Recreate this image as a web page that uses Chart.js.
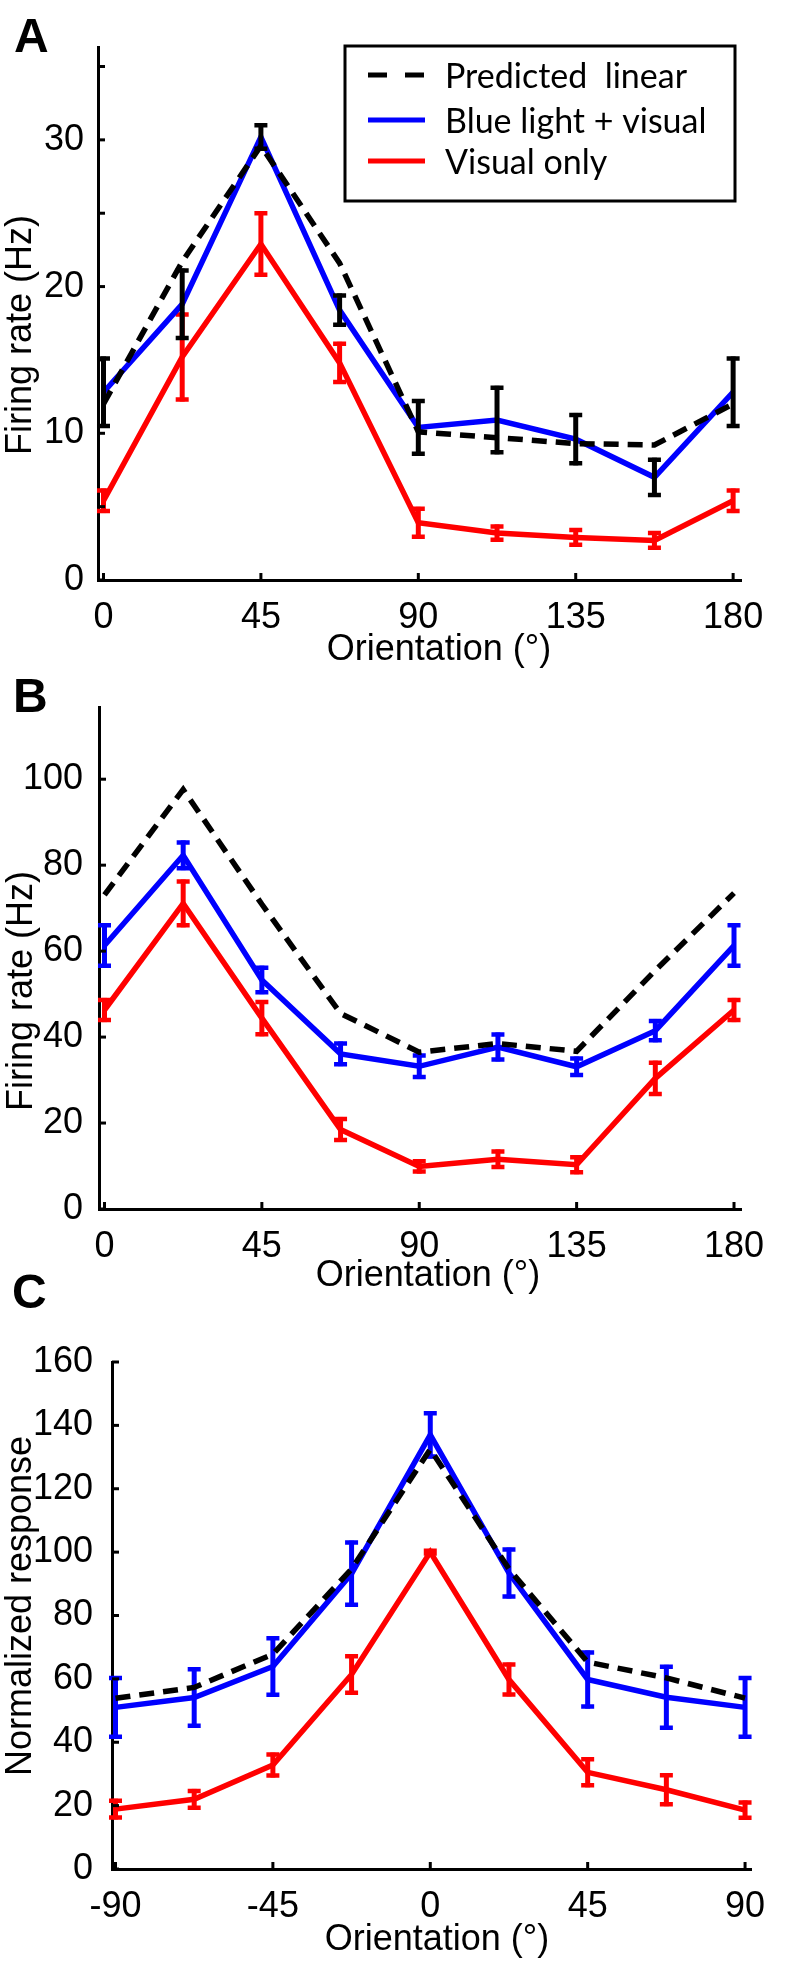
<!DOCTYPE html>
<html><head><meta charset="utf-8">
<script src="https://cdn.jsdelivr.net/npm/chart.js@4.4.1/dist/chart.umd.min.js"></script>
<style>
html,body{margin:0;padding:0;background:#fff;}
#wrap{position:relative;width:810px;height:1971px;background:#fff;}
canvas{position:absolute;left:0;top:0;}
</style></head><body><div id="wrap">
<canvas id="cA" width="810" height="1971"></canvas>
<canvas id="cB" width="810" height="1971"></canvas>
<canvas id="cC" width="810" height="1971"></canvas>
</div>
<script>
// ---------- data ----------
const seriesLabels = ['Predicted  linear', 'Blue light + visual', 'Visual only'];

// Panel A
const orientAB = [0, 22.5, 45, 67.5, 90, 112.5, 135, 157.5, 180];
const predA = [12.0, 21.7, 29.6, 21.6, 10.1, 9.7, 9.3, 9.2, 12.0];
const blueA = [12.8, 18.8, 30.2, 18.4, 10.4, 10.9, 9.6, 7.0, 12.8];
const blueErrA = [2.3, 2.3, 0.8, 1.0, 1.8, 2.2, 1.65, 1.2, 2.3];
const redA = [5.4, 15.2, 22.9, 14.8, 3.9, 3.2, 2.9, 2.7, 5.4];
const redErrA = [0.7, 2.9, 2.1, 1.3, 0.95, 0.45, 0.5, 0.5, 0.7];
const xTicksAB = [0, 45, 90, 135, 180];
const xTickLabelsAB = ['0', '45', '90', '135', '180'];
const yTicksA = [0, 5, 10, 15, 20, 25, 30, 35];
const yTickLabelsA = ['0', '', '10', '', '20', '', '30', ''];

// Panel B
const predB = [73.1, 97.6, 70.9, 45.5, 36.5, 38.5, 36.7, 55.5, 73.5];
const blueB = [61.3, 82.3, 53.3, 36.1, 33.2, 37.7, 33.1, 41.5, 61.3];
const blueErrB = [4.7, 3.0, 2.85, 2.4, 2.5, 2.9, 1.9, 2.25, 4.7];
const redB = [46.3, 71.1, 44.4, 18.5, 9.9, 11.6, 10.3, 30.4, 46.3];
const redErrB = [2.35, 5.1, 3.75, 2.45, 1.2, 1.8, 1.75, 3.65, 2.35];
const yTicksB = [0, 20, 40, 60, 80, 100];
const yTickLabelsB = ['0', '20', '40', '60', '80', '100'];

// Panel C
const orientC = [-90, -67.5, -45, -22.5, 0, 22.5, 45, 67.5, 90];
const predC = [53.9, 57.3, 67.8, 94.7, 132.5, 94.7, 65.3, 60.3, 53.9];
const blueC = [51.0, 54.1, 63.9, 93.2, 137.0, 93.4, 59.8, 54.2, 51.0];
const blueErrC = [9.25, 8.9, 8.9, 9.8, 6.8, 7.4, 8.55, 9.6, 9.25];
const redC = [18.9, 22.0, 32.8, 61.4, 100, 59.8, 30.5, 25.0, 18.6];
const redErrC = [2.65, 2.65, 3.3, 5.75, 0.4, 4.7, 4.1, 4.55, 2.4];
const xTicksC = [-90, -45, 0, 45, 90];
const xTickLabelsC = ['-90', '-45', '0', '45', '90'];
const yTicksC = [0, 20, 40, 60, 80, 100, 120, 140, 160];
const yTickLabelsC = ['0', '20', '40', '60', '80', '100', '120', '140', '160'];

const xTitle = 'Orientation (°)';
const yTitleAB = 'Firing rate (Hz)';
const yTitleC = 'Normalized response';

// ---------- styling ----------
const FONT = "'Liberation Sans', Arial, Helvetica, sans-serif";
const BLACK = '#000000', BLUE = '#0000ff', RED = '#ff0000';

const errorBars = {
  id: 'errorBars',
  afterDatasetDraw(chart, args) {
    const ds = chart.data.datasets[args.index];
    if (!ds.errors) return;
    const xs = chart.scales.x, ys = chart.scales.y, ctx = chart.ctx;
    ctx.save();
    ctx.strokeStyle = ds.errorColor;
    ctx.lineCap = 'butt';
    ds.data.forEach((p, i) => {
      const e = ds.errors[i];
      const px = xs.getPixelForValue(p.x);
      const yt = ys.getPixelForValue(p.y + e);
      const yb = ys.getPixelForValue(p.y - e);
      ctx.lineWidth = 5;
      ctx.beginPath(); ctx.moveTo(px, yt - 2); ctx.lineTo(px, yb + 2); ctx.stroke();
      ctx.lineWidth = 4.5;
      ctx.beginPath();
      ctx.moveTo(px - 6.5, yt); ctx.lineTo(px + 6.5, yt);
      ctx.moveTo(px - 6.5, yb); ctx.lineTo(px + 6.5, yb);
      ctx.stroke();
    });
    ctx.restore();
  }
};

const deco = {
  id: 'deco',
  afterDraw(chart, args, o) {
    const ctx = chart.ctx, xs = chart.scales.x, ys = chart.scales.y, ca = chart.chartArea;
    ctx.save();
    ctx.strokeStyle = BLACK; ctx.lineWidth = 3; ctx.lineCap = 'butt';
    xs.ticks.forEach(t => {
      const px = xs.getPixelForValue(t.value);
      ctx.beginPath(); ctx.moveTo(px, ca.bottom); ctx.lineTo(px, ca.bottom - 7); ctx.stroke();
    });
    ys.ticks.forEach(t => {
      const py = ys.getPixelForValue(t.value);
      ctx.beginPath(); ctx.moveTo(ca.left, py); ctx.lineTo(ca.left + 7, py); ctx.stroke();
    });
    ctx.fillStyle = BLACK;
    ctx.font = '36px ' + FONT;
    ctx.textAlign = 'center'; ctx.textBaseline = 'middle';
    ctx.fillText(o.xTitle, o.xTitlePos[0], o.xTitlePos[1]);
    ctx.save();
    ctx.translate(o.yTitlePos[0], o.yTitlePos[1]);
    ctx.rotate(-Math.PI / 2);
    ctx.fillText(o.yTitle, 0, 0);
    ctx.restore();
    ctx.font = 'bold 48px ' + FONT;
    ctx.textAlign = 'left'; ctx.textBaseline = 'alphabetic';
    ctx.fillText(o.letter, o.letterPos[0], o.letterPos[1]);
    if (o.legend) {
      const L = o.legend;
      ctx.lineWidth = 3; ctx.strokeStyle = BLACK;
      ctx.strokeRect(L.box[0], L.box[1], L.box[2], L.box[3]);
      chart.data.datasets.forEach((ds, i) => {
        const y = L.rowY[i];
        ctx.strokeStyle = ds.borderColor; ctx.lineWidth = 5;
        ctx.setLineDash(ds.borderDash && ds.borderDash.length ? [19, 18] : []);
        ctx.beginPath(); ctx.moveTo(L.sampleX[0], y); ctx.lineTo(L.sampleX[1], y); ctx.stroke();
        ctx.setLineDash([]);
        ctx.fillStyle = BLACK;
        ctx.font = '34px Lato, "Open Sans", sans-serif';
        ctx.textAlign = 'left'; ctx.textBaseline = 'middle';
        ctx.fillText(ds.label, L.textX, y + 2);
      });
    }
    ctx.restore();
  }
};

function pts(xs, ys) { return xs.map((x, i) => ({ x: x, y: ys[i] })); }

function makePanel(id, p) {
  const H = 1971;
  const xAxisH = 100, yAxisW = 80;
  new Chart(document.getElementById(id), {
    type: 'line',
    data: {
      datasets: [
        { label: seriesLabels[0], data: pts(p.x, p.pred), borderColor: BLACK, borderWidth: 5.5,
          borderDash: [15, 9], pointRadius: 0, tension: 0, fill: false },
        { label: seriesLabels[1], data: pts(p.x, p.blue), borderColor: BLUE, borderWidth: 5.5,
          pointRadius: 0, tension: 0, fill: false, errors: p.blueErr, errorColor: p.blueErrColor },
        { label: seriesLabels[2], data: pts(p.x, p.red), borderColor: RED, borderWidth: 5.5,
          pointRadius: 0, tension: 0, fill: false, errors: p.redErr, errorColor: RED }
      ]
    },
    options: {
      responsive: false, animation: false, devicePixelRatio: 1,
      layout: {
        autoPadding: false,
        padding: { left: p.area.left - yAxisW, right: 810 - p.area.right, top: p.area.top, bottom: H - p.area.bottom - xAxisH }
      },
      plugins: {
        legend: { display: false }, tooltip: { enabled: false },
        deco: p.deco
      },
      scales: {
        x: {
          type: 'linear', min: p.xMin, max: p.xMax,
          afterFit: s => { s.height = xAxisH; },
          afterBuildTicks: s => { s.ticks = p.xTicks.map(v => ({ value: v })); },
          grid: { display: false },
          border: { display: true, color: BLACK, width: 3 },
          ticks: {
            color: BLACK, padding: 8, maxRotation: 0, autoSkip: false,
            font: { family: FONT, size: 36 },
            callback: v => p.xLabels[p.xTicks.indexOf(v)]
          }
        },
        y: {
          type: 'linear', min: 0, max: p.yMax,
          afterFit: s => { s.width = yAxisW; },
          afterBuildTicks: s => { s.ticks = p.yTicks.map(v => ({ value: v })); },
          grid: { display: false },
          border: { display: true, color: BLACK, width: 3 },
          ticks: {
            color: BLACK, padding: p.yPad, autoSkip: false,
            font: { family: FONT, size: 36 },
            callback: v => p.yLabels[p.yTicks.indexOf(v)]
          }
        }
      }
    },
    plugins: [errorBars, deco]
  });
}

makePanel('cA', {
  x: orientAB, pred: predA, blue: blueA, blueErr: blueErrA, blueErrColor: BLACK, red: redA, redErr: redErrA,
  area: { left: 98, right: 741, top: 47, bottom: 580 },
  xMin: -1.57, xMax: 182.25, yMax: 36.33, yPad: 6,
  xTicks: xTicksAB, xLabels: xTickLabelsAB, yTicks: yTicksA, yLabels: yTickLabelsA,
  deco: {
    xTitle: xTitle, xTitlePos: [439, 650], yTitle: yTitleAB, yTitlePos: [21, 335],
    letter: 'A', letterPos: [14, 52],
    legend: { box: [345, 46, 390, 155], rowY: [75, 120, 161], sampleX: [368, 425], textX: 445 }
  }
});

makePanel('cB', {
  x: orientAB, pred: predB, blue: blueB, blueErr: blueErrB, blueErrColor: BLUE, red: redB, redErr: redErrB,
  area: { left: 99, right: 741, top: 707, bottom: 1209 },
  xMin: -1.57, xMax: 182.0, yMax: 116.8, yPad: 8,
  xTicks: xTicksAB, xLabels: xTickLabelsAB, yTicks: yTicksB, yLabels: yTickLabelsB,
  deco: {
    xTitle: xTitle, xTitlePos: [428, 1276], yTitle: yTitleAB, yTitlePos: [22, 991],
    letter: 'B', letterPos: [13, 712]
  }
});

makePanel('cC', {
  x: orientC, pred: predC, blue: blueC, blueErr: blueErrC, blueErrColor: BLUE, red: redC, redErr: redErrC,
  area: { left: 112, right: 751, top: 1362, bottom: 1869 },
  xMin: -91.0, xMax: 91.7, yMax: 160, yPad: 11,
  xTicks: xTicksC, xLabels: xTickLabelsC, yTicks: yTicksC, yLabels: yTickLabelsC,
  deco: {
    xTitle: xTitle, xTitlePos: [437, 1940], yTitle: yTitleC, yTitlePos: [21, 1606],
    letter: 'C', letterPos: [12, 1308]
  }
});
</script>
</body></html>
